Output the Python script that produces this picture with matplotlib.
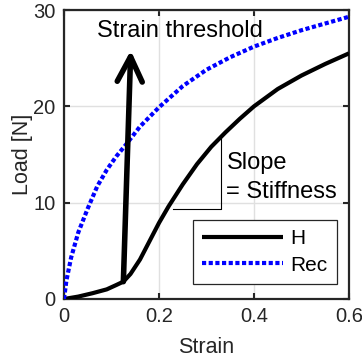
import matplotlib
matplotlib.use("Agg")
import matplotlib.pyplot as plt

# values
strain_h = [0, 0.03, 0.06, 0.09, 0.11, 0.125, 0.14, 0.16, 0.18, 0.2, 0.22, 0.25,
            0.28, 0.31, 0.34, 0.37, 0.4, 0.45, 0.5, 0.55, 0.6]
load_h = [0, 0.25, 0.6, 1.0, 1.45, 1.8, 2.6, 4.1, 6.0, 7.9, 9.6, 11.9,
          14.0, 15.8, 17.3, 18.7, 20.0, 21.8, 23.2, 24.4, 25.5]

strain_rec = [0, 0.005, 0.015, 0.03, 0.05, 0.07, 0.09, 0.11, 0.13, 0.16, 0.2,
              0.25, 0.3, 0.35, 0.4, 0.45, 0.5, 0.55, 0.6]
load_rec = [0, 1.9, 4.3, 6.9, 9.4, 11.7, 13.4, 14.8, 16.0, 17.9, 19.9,
            22.1, 23.8, 25.1, 26.2, 27.1, 27.9, 28.6, 29.3]

arrow_start = (0.125, 1.8)
arrow_end = (0.1405, 25.8)
slope_x = [0.23, 0.33, 0.33]
slope_y = [9.35, 9.35, 16.9]

xticks = [0, 0.2, 0.4, 0.6]
xtick_labels = ["0", "0.2", "0.4", "0.6"]
yticks = [0, 10, 20, 30]

dark = "#262626"


def main():
    plt.rcParams["font.family"] = ["Liberation Sans", "DejaVu Sans"]

    fig = plt.figure(figsize=(3.62, 3.64), dpi=100)
    ax = fig.add_axes([64 / 362, 65 / 364, 285 / 362, 289 / 364])

    ax.plot(strain_h, load_h, color="black", lw=3, label="H", zorder=3,
            solid_capstyle="butt")
    ax.plot(strain_rec, load_rec, color="blue", lw=3, linestyle=(0, (1, 0.6)),
            label="Rec", zorder=3)

    ax.plot(slope_x, slope_y, color="black", lw=0.8, zorder=2)
    ax.text(0.342, 14.1, "Slope", va="center", ha="left", fontsize=17)
    ax.text(0.342, 11.1, "= Stiffness", va="center", ha="left", fontsize=17)

    ax.annotate("", xy=arrow_end, xytext=arrow_start,
                arrowprops=dict(arrowstyle="->,head_length=1.8,head_width=0.9",
                                mutation_scale=10, color="black", lw=4,
                                shrinkA=0, shrinkB=0),
                zorder=4)
    ax.text(0.244, 27.8, "Strain threshold", ha="center", va="center", fontsize=17)

    ax.set_xlim(0, 0.6)
    ax.set_ylim(0, 30)
    ax.set_xticks(xticks)
    ax.set_xticklabels(xtick_labels)
    ax.set_yticks(yticks)
    ax.tick_params(direction="in", top=True, right=True, length=4, width=1.5,
                   colors=dark, labelsize=14.5, pad=6)
    ax.grid(True, color="#e0e0e0", lw=1)
    for s in ax.spines.values():
        s.set_linewidth(1.6)
        s.set_color(dark)
    ax.set_xlabel("Strain", color=dark, fontsize=15.5, labelpad=8)
    ax.set_ylabel("Load [N]", color=dark, fontsize=15.5, labelpad=0)

    leg = ax.legend(loc="lower right", bbox_to_anchor=(0.958, 0.052),
                    borderaxespad=0, handlelength=3.9, fancybox=False,
                    edgecolor=dark, framealpha=1, fontsize=15,
                    borderpad=0.45, labelspacing=0.35, handletextpad=0.35)
    leg.get_frame().set_linewidth(0.9)

    fig.savefig("out.png", dpi=100)


if __name__ == "__main__":
    main()
